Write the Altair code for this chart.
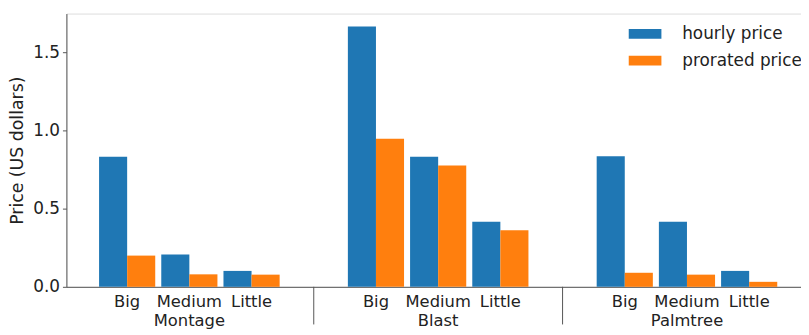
import altair as alt
import pandas as pd

groups = ["Montage", "Blast", "Palmtree"]
sizes = ["Big", "Medium", "Little"]
series = ["hourly price", "prorated price"]

hourly_montage = [0.833, 0.207, 0.102]
hourly_blast = [1.667, 0.833, 0.417]
hourly_palmtree = [0.836, 0.417, 0.102]

prorated_montage = [0.200, 0.080, 0.078]
prorated_blast = [0.948, 0.777, 0.363]
prorated_palmtree = [0.090, 0.078, 0.032]

hourly = [hourly_montage, hourly_blast, hourly_palmtree]
prorated = [prorated_montage, prorated_blast, prorated_palmtree]

rows = []
domain = []
spacers = []
for i, (g, hs, ps) in enumerate(zip(groups, hourly, prorated)):
    if i > 0:
        sp = "gap%d" % i
        spacers.append(sp)
        domain.append(sp)
    for s, hv, pv in zip(sizes, hs, ps):
        key = g + "|" + s
        domain.append(key)
        rows.append({"key": key, "series": series[0], "price": hv})
        rows.append({"key": key, "series": series[1], "price": pv})
df = pd.DataFrame(rows)
df_sep = pd.DataFrame({"key": spacers})
df_grp = pd.DataFrame({"key": [g + "|" + sizes[1] for g in groups], "group": groups})

H = 276
W = 742
AX = "#555555"
TX = "#222222"

# the x axis of the original runs past the right edge of the picture
xscale = alt.Scale(domain=domain, range=[0, 751], paddingInner=0.097,
                   paddingOuter=0.525, round=False)

bars = alt.Chart(df).mark_bar().encode(
    x=alt.X(
        "key:N", scale=xscale,
        axis=alt.Axis(title=None, labelAngle=0, labelFontSize=16.5, labelColor=TX,
                      ticks=False, domainColor=AX, labelPadding=7,
                      labelExpr="indexof(datum.label, '|') >= 0 ? split(datum.label, '|')[1] : ''"),
    ),
    xOffset=alt.XOffset("series:N", sort=series,
                        scale=alt.Scale(paddingInner=0, paddingOuter=0)),
    y=alt.Y(
        "price:Q",
        scale=alt.Scale(domain=[0, 1.75], nice=False),
        axis=alt.Axis(values=[0, 0.5, 1.0, 1.5], format=".1f", title="Price (US dollars)",
                      grid=False, labelFontSize=17, labelColor=TX, titleFontSize=17.5,
                      titleFontWeight="normal", titleColor=TX, tickSize=4, tickColor=AX,
                      domainColor=AX, labelPadding=3, titlePadding=6),
    ),
    color=alt.Color(
        "series:N", sort=series,
        scale=alt.Scale(domain=series, range=["#1f77b4", "#ff7f0e"]),
        legend=alt.Legend(
            title=None, orient="none", legendX=576, legendY=12,
            symbolType="M-3.3,-1H3.3V1H-3.3Z", symbolSize=100, symbolStrokeWidth=0,
            symbolOpacity=1, labelFontSize=17, labelColor=TX, labelOffset=29, rowPadding=9,
        ),
    ),
)

seps = alt.Chart(df_sep).mark_rule(color=AX, strokeWidth=1).encode(
    x=alt.X("key:N", scale=xscale),
    y=alt.value(H),
    y2=alt.value(H + 38),
)

glabels = alt.Chart(df_grp).mark_text(fontSize=16.5, color=TX, baseline="middle").encode(
    x=alt.X("key:N", scale=xscale),
    y=alt.value(H + 35),
    text="group:N",
)

chart = (
    alt.layer(bars, seps, glabels)
    .properties(width=W, height=H,
                autosize=alt.AutoSizeParams(type="none"),
                padding={"left": 59, "top": 4, "right": 0, "bottom": 45})
    .configure_view(strokeWidth=0)
    .configure(font="DejaVu Sans")
)

chart.save("out.html", embed_options={"renderer": "svg", "actions": False})
